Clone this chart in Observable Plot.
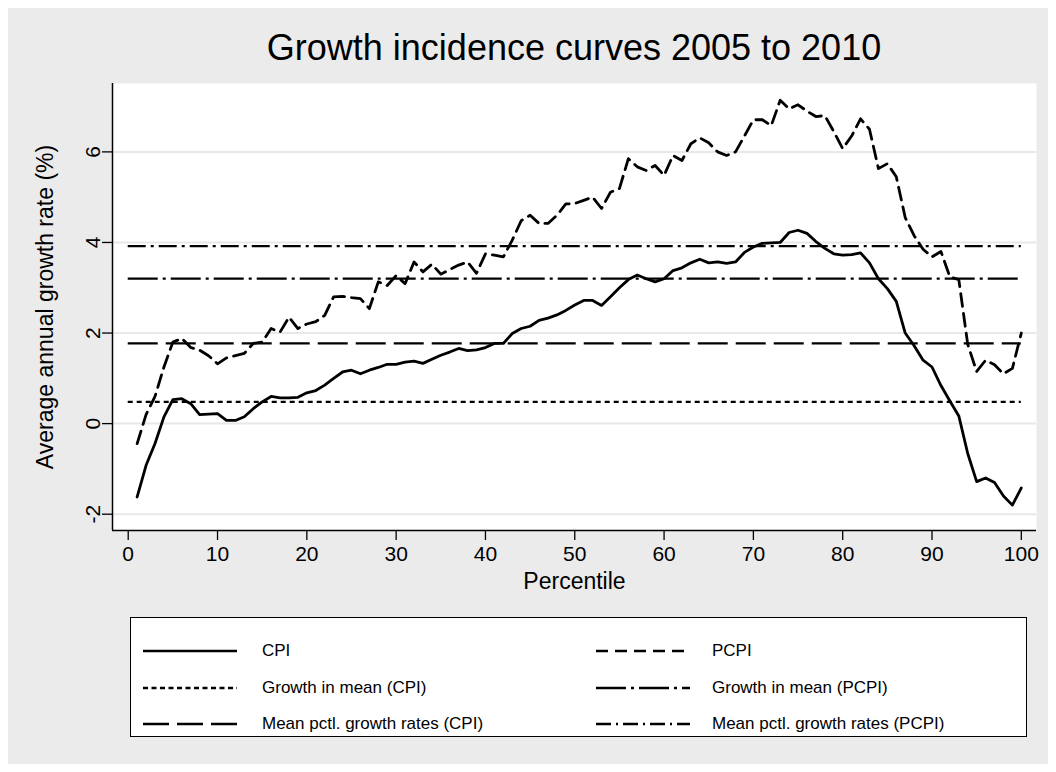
<!DOCTYPE html>
<html>
<head>
<meta charset="utf-8">
<script src="https://cdn.jsdelivr.net/npm/d3@7"></script>
<script src="https://cdn.jsdelivr.net/npm/@observablehq/plot@0.6"></script>
<style>
  html, body { margin: 0; padding: 0; background: #ffffff; }
  body { font-family: "Liberation Sans", Arial, Helvetica, sans-serif; }
  #wrap { position: absolute; left: 8px; top: 8px; width: 1040px; height: 756px; background: #ebebeb; }
  #title { position: absolute; left: 104px; width: 924px; top: 22px; text-align: center; font-size: 36px; line-height: 36px; color: #000; }
  #chart { position: absolute; left: 0; top: 62px; }
  #legend { position: absolute; left: 122px; top: 609px; width: 895px; height: 118px; background: #fff; border: 1px solid #000; }
  .lg-item { position: absolute; height: 20px; }
  .lg-item svg { position: absolute; top: 8px; }
  .lg-item span { position: absolute; top: 0; line-height: 20px; font-size: 17px; white-space: nowrap; color: #000; }
</style>
</head>
<body>
<div id="wrap">
  <div id="title">Growth incidence curves 2005 to 2010</div>
  <div id="chart"></div>
  <div id="legend"></div>
</div>
<script>
// ---- data ----
const percentile = [1,2,3,4,5,6,7,8,9,10,11,12,13,14,15,16,17,18,19,20,21,22,23,24,25,26,27,28,29,30,31,32,33,34,35,36,37,38,39,40,41,42,43,44,45,46,47,48,49,50,51,52,53,54,55,56,57,58,59,60,61,62,63,64,65,66,67,68,69,70,71,72,73,74,75,76,77,78,79,80,81,82,83,84,85,86,87,88,89,90,91,92,93,94,95,96,97,98,99,100];

const cpi = [-1.62,-0.92,-0.44,0.15,0.53,0.55,0.44,0.20,0.21,0.22,0.07,0.07,0.15,0.33,0.48,0.60,0.57,0.57,0.58,0.68,0.73,0.85,1.00,1.14,1.18,1.10,1.18,1.24,1.31,1.31,1.36,1.38,1.33,1.42,
  1.51,1.58,1.66,1.61,1.63,1.68,1.77,1.77,1.99,2.10,2.15,2.28,2.33,2.40,2.50,2.62,2.72,2.72,2.61,2.80,3.00,3.18,3.28,3.20,3.13,3.20,3.38,3.44,3.55,3.63,
  3.55,3.57,3.54,3.57,3.78,3.90,3.98,3.99,4.00,4.22,4.27,4.20,4.02,3.87,3.75,3.72,3.73,3.77,3.55,3.20,2.98,2.70,2.00,1.72,1.40,1.25,0.84,0.50,0.17,-0.66,-1.28,-1.20,-1.30,-1.60,-1.80,-1.42];

const pcpi = [-0.44,0.20,0.60,1.25,1.80,1.88,1.68,1.62,1.50,1.32,1.45,1.50,1.55,1.77,1.80,2.10,2.02,2.35,2.10,2.20,2.25,2.39,2.80,2.81,2.78,2.76,2.54,3.13,3.05,3.27,3.09,3.57,3.35,
  3.52,3.30,3.40,3.50,3.57,3.32,3.75,3.72,3.68,4.05,4.48,4.60,4.42,4.42,4.60,4.85,4.86,4.93,5.00,4.75,5.11,5.19,5.85,5.67,5.59,5.70,5.48,5.92,5.81,6.18,6.31,6.20,6.00,
  5.92,6.00,6.35,6.71,6.71,6.58,7.14,6.95,7.04,6.90,6.78,6.80,6.45,6.07,6.35,6.73,6.50,5.63,5.74,5.45,4.55,4.15,3.85,3.68,3.80,3.24,3.18,1.75,1.15,1.40,1.30,1.10,1.22,2.00];

const growthMeanCPI = 0.48;
const meanPctlCPI = 1.77;
const growthMeanPCPI = 3.20;
const meanPctlPCPI = 3.92;
const refSpan = [0, 100];

const xTicks = [0,10,20,30,40,50,60,70,80,90,100];
const yTicks = [-2,0,2,4,6];

const seriesNames = ["CPI", "PCPI", "Growth in mean (CPI)", "Growth in mean (PCPI)", "Mean pctl. growth rates (CPI)", "Mean pctl. growth rates (PCPI)"];

// ---- styles ----
const dashes = {
  "CPI": null,
  "PCPI": "13,7",
  "Growth in mean (CPI)": "5,4",
  "Growth in mean (PCPI)": "30,5,3,5",
  "Mean pctl. growth rates (CPI)": "30,8",
  "Mean pctl. growth rates (PCPI)": "18,5,3,5"
};
const legendDashes = {
  "CPI": null,
  "PCPI": "12,7",
  "Growth in mean (CPI)": "5,3.5",
  "Growth in mean (PCPI)": "30,5,3,5",
  "Mean pctl. growth rates (CPI)": "26,8",
  "Mean pctl. growth rates (PCPI)": "15,5,2,5"
};

const rows = percentile.map((p, i) => ({p, cpi: cpi[i], pcpi: pcpi[i]}));
const xDomain = [-1.76, 101.7];
const yDomain = [-2.36, 7.51];

function refLine(v, name) {
  return Plot.ruleY([v], {x1: refSpan[0], x2: refSpan[1], stroke: "#000", strokeWidth: 2.2, strokeDasharray: dashes[name]});
}

const chart = Plot.plot({
  width: 1040,
  height: 540,
  marginLeft: 104,
  marginRight: 12,
  marginTop: 13,
  marginBottom: 80,
  style: {background: "none", fontFamily: "'Liberation Sans', Arial, sans-serif", color: "#000", overflow: "visible"},
  x: {domain: xDomain},
  y: {domain: yDomain},
  marks: [
    Plot.frame({fill: "#ffffff", stroke: null}),
    Plot.ruleY(yTicks, {stroke: "#e8e8e8", strokeWidth: 2}),
    refLine(growthMeanCPI, "Growth in mean (CPI)"),
    refLine(meanPctlCPI, "Mean pctl. growth rates (CPI)"),
    refLine(growthMeanPCPI, "Growth in mean (PCPI)"),
    refLine(meanPctlPCPI, "Mean pctl. growth rates (PCPI)"),
    Plot.line(rows, {x: "p", y: "pcpi", stroke: "#000", strokeWidth: 2.8, strokeDasharray: dashes["PCPI"], strokeLinejoin: "round"}),
    Plot.line(rows, {x: "p", y: "cpi", stroke: "#000", strokeWidth: 2.8, strokeLinejoin: "round"}),
    Plot.ruleX([xDomain[0]], {stroke: "#000", strokeWidth: 1.5}),
    Plot.ruleY([yDomain[0]], {stroke: "#000", strokeWidth: 1.5}),
    Plot.axisX({ticks: xTicks, tickSize: 10, tickPadding: 6, fontSize: 21, tickFormat: d => String(d), label: null, strokeWidth: 1.3}),
    Plot.axisY({ticks: yTicks, tickSize: 10, tickRotate: -90, fontSize: 21, tickFormat: d => String(d), label: null, strokeWidth: 1.3}),
    Plot.text(["Percentile"], {frameAnchor: "bottom", dy: 58, fontSize: 23, fill: "#000"}),
    Plot.text(["Average annual growth rate (%)"], {frameAnchor: "left", textAnchor: "middle", dx: -67, rotate: -90, fontSize: 23, fill: "#000"})
  ]
});
document.getElementById("chart").appendChild(chart);

// ---- legend ----
const legend = document.getElementById("legend");
const colX = [{line: 12, text: 131}, {line: 465, text: 581}];
const rowY = [33, 70, 106];
seriesNames.forEach((name, i) => {
  const c = colX[i % 2], r = rowY[Math.floor(i / 2)];
  const item = document.createElement("div");
  item.className = "lg-item";
  item.style.left = "0px";
  item.style.top = (r - 10) + "px";
  item.style.width = "890px";
  const da = legendDashes[name];
  item.innerHTML = `<svg width="94" height="4" style="left:${c.line}px"><line x1="0" y1="2" x2="94" y2="2" stroke="#000" stroke-width="2.6" ${da ? `stroke-dasharray="${da}"` : ""}/></svg><span style="left:${c.text}px">${name}</span>`;
  legend.appendChild(item);
});
</script>
</body>
</html>
